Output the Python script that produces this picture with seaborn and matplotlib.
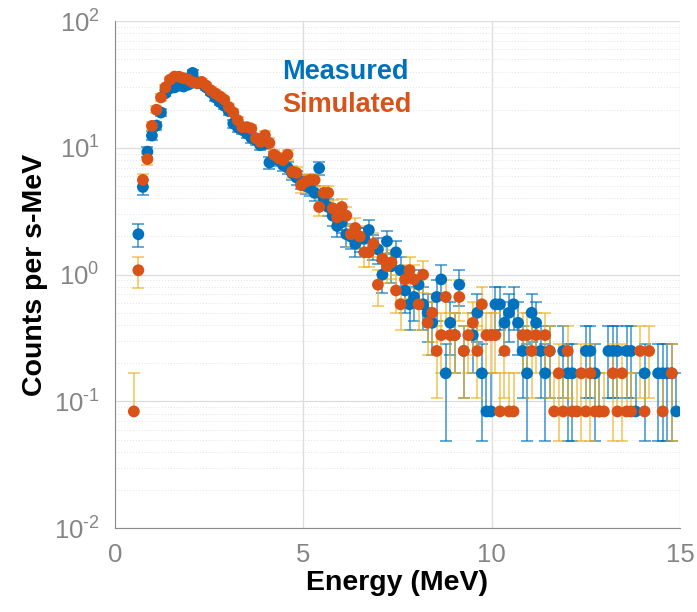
import numpy as np
import pandas as pd
import matplotlib
matplotlib.use("Agg")
import matplotlib.pyplot as plt
from matplotlib.lines import Line2D
from matplotlib.ticker import LogLocator, NullFormatter, FixedLocator, FuncFormatter
import seaborn as sns

# Energy bin centres (MeV), 0.12 MeV wide
energy = np.round(0.5 + 0.12 * np.arange(121), 2)

# Counts per bin; rates are counts / (live time x bin width)
norm_s_mev = 12.0

measured_counts = [
    0, 25, 59, 112, 150, 180, 228, 324, 354, 360,
    372, 366, 378, 468, 396, 384, 360, 330, 300, 276,
    258, 234, 187, 174, 166, 156, 144, 138, 126, 130,
    92, 102, 96, 88, 84, 76, 70, 65, 60, 58,
    53, 83, 48, 41, 35, 29, 31, 25, 24, 21,
    23, 23, 27, 20, 19, 12, 22, 14, 18, 13,
    9, 7, 8, 10, 7, 6, 5, 8, 11, 2,
    5, 4, 10, 3, 0, 4, 6, 2, 1, 1,
    7, 7, 5, 6, 7, 5, 3, 2, 6, 5,
    3, 2, 3, 0, 0, 3, 2, 2, 0, 0,
    3, 3, 2, 1, 0, 3, 3, 3, 0, 3,
    3, 1, 0, 2, 0, 0, 2, 2, 2, 2,
    1,
]

simulated_counts = [
    1, 13, 67, 98, 179, 240, 300, 360, 414, 438,
    437, 426, 416, 396, 388, 398, 372, 342, 323, 306,
    288, 252, 228, 198, 175, 175, 170, 143, 134, 151,
    131, 106, 100, 96, 106, 78, 76, 61, 65, 67,
    67, 41, 53, 53, 40, 34, 41, 35, 25, 28,
    24, 18, 18, 21, 10, 16, 14, 15, 9, 7,
    11, 13, 11, 7, 12, 5, 6, 3, 4, 8,
    4, 4, 8, 3, 4, 5, 3, 7, 4, 4,
    4, 1, 3, 1, 1, 0, 4, 4, 3, 4,
    0, 4, 3, 1, 2, 1, 3, 1, 1, 2,
    1, 2, 1, 1, 1, 0, 2, 1, 2, 1,
    1, 0, 3, 1, 3, 0, 0, 1, 0, 2,
    0,
]

series_names = ["Measured", "Simulated"]
marker_colors = {"Measured": "#0072BD", "Simulated": "#D95319"}
bar_colors = {"Measured": "#0072BD", "Simulated": "#EDB120"}

frames = []
for name, counts in zip(series_names, [measured_counts, simulated_counts]):
    n = np.asarray(counts, dtype=float)
    frames.append(pd.DataFrame({
        "energy": energy,
        "counts": n,
        "rate": n / norm_s_mev,
        "sigma": np.sqrt(n) / norm_s_mev,
        "source": name,
    }))
df = pd.concat(frames, ignore_index=True)
df = df[df["counts"] > 0].reset_index(drop=True)

sns.set_theme(style="white")
plt.rcParams["font.family"] = ["Liberation Sans", "DejaVu Sans"]
plt.rcParams["mathtext.fontset"] = "custom"
plt.rcParams["mathtext.rm"] = "Liberation Sans"
plt.rcParams["axes.unicode_minus"] = False

fig = plt.figure(figsize=(6.97, 6.12), dpi=100)
ax = fig.add_axes([0.165, 0.137, 0.8106, 0.8285])

# Poisson error bars; the lower half is dropped when it would reach zero
for name in series_names:
    d = df[df["source"] == name]
    hi = d["rate"] + d["sigma"]
    lo_ok = d["counts"] > 1
    lo = np.where(lo_ok, d["rate"] - d["sigma"], d["rate"])
    col = bar_colors[name]
    ax.vlines(d["energy"], lo, hi, color=col, alpha=0.65, lw=1.3, zorder=2)
    ax.plot(d["energy"], hi, ls="none", marker="_", ms=8.5, mew=1.3,
            color=col, alpha=0.65, zorder=2)
    ax.plot(d["energy"][lo_ok], lo[lo_ok.values], ls="none", marker="_", ms=8.5,
            mew=1.3, color=col, alpha=0.65, zorder=2)

sns.scatterplot(data=df, x="energy", y="rate", hue="source",
                palette=marker_colors, hue_order=series_names,
                s=72, linewidth=0, alpha=1.0, legend=False, ax=ax, zorder=3)

ax.set_yscale("log")
ax.set_xlim(0, 15)
ax.set_ylim(1e-2, 1e2)
ax.xaxis.set_major_locator(FixedLocator([0, 5, 10, 15]))
ax.yaxis.set_major_locator(LogLocator(base=10, numticks=10))
ax.yaxis.set_minor_locator(LogLocator(base=10, subs=np.arange(2, 10), numticks=20))
ax.yaxis.set_minor_formatter(NullFormatter())


def decade_label(value, pos):
    exp = int(round(np.log10(value)))
    exp_txt = str(abs(exp))
    if exp < 0:
        exp_txt = "\u2010" + exp_txt
    return r"$\mathdefault{10^{%s}}$" % exp_txt


ax.yaxis.set_major_formatter(FuncFormatter(decade_label))

ax.set_axisbelow(True)
ax.grid(True, which="major", color="#dcdcdc", lw=0.9, ls="-")
ax.grid(True, which="minor", axis="y", color="#e2e2e2", lw=0.7, ls=(0, (1, 2)))

for side in ["top", "right"]:
    ax.spines[side].set_visible(False)
for side in ["left", "bottom"]:
    ax.spines[side].set_color("#8c8c8c")
    ax.spines[side].set_linewidth(0.8)

ax.tick_params(which="major", direction="out", length=6, width=0.8,
               color="#8c8c8c", labelcolor="#858585", labelsize=18.5, pad=5)
ax.tick_params(axis="y", which="minor", direction="out", length=3, width=0.6,
               color="#8c8c8c")
ax.tick_params(axis="x", which="minor", length=0)

ax.set_xlabel("Energy (MeV)", fontsize=20.5, fontweight="bold", color="black",
              labelpad=2)
ax.set_ylabel("Counts per s-MeV", fontsize=20.5, fontweight="bold", color="black",
              labelpad=4)

handles = [Line2D([], [], ls="none") for _ in series_names]
ax.legend(handles, series_names, loc="upper left", bbox_to_anchor=(0.253, 0.973),
          frameon=False, handlelength=0, handletextpad=0, labelspacing=0.25,
          labelcolor=[marker_colors[n] for n in series_names],
          prop={"weight": "bold", "size": 19.5})

fig.savefig("out.png", dpi=100)
